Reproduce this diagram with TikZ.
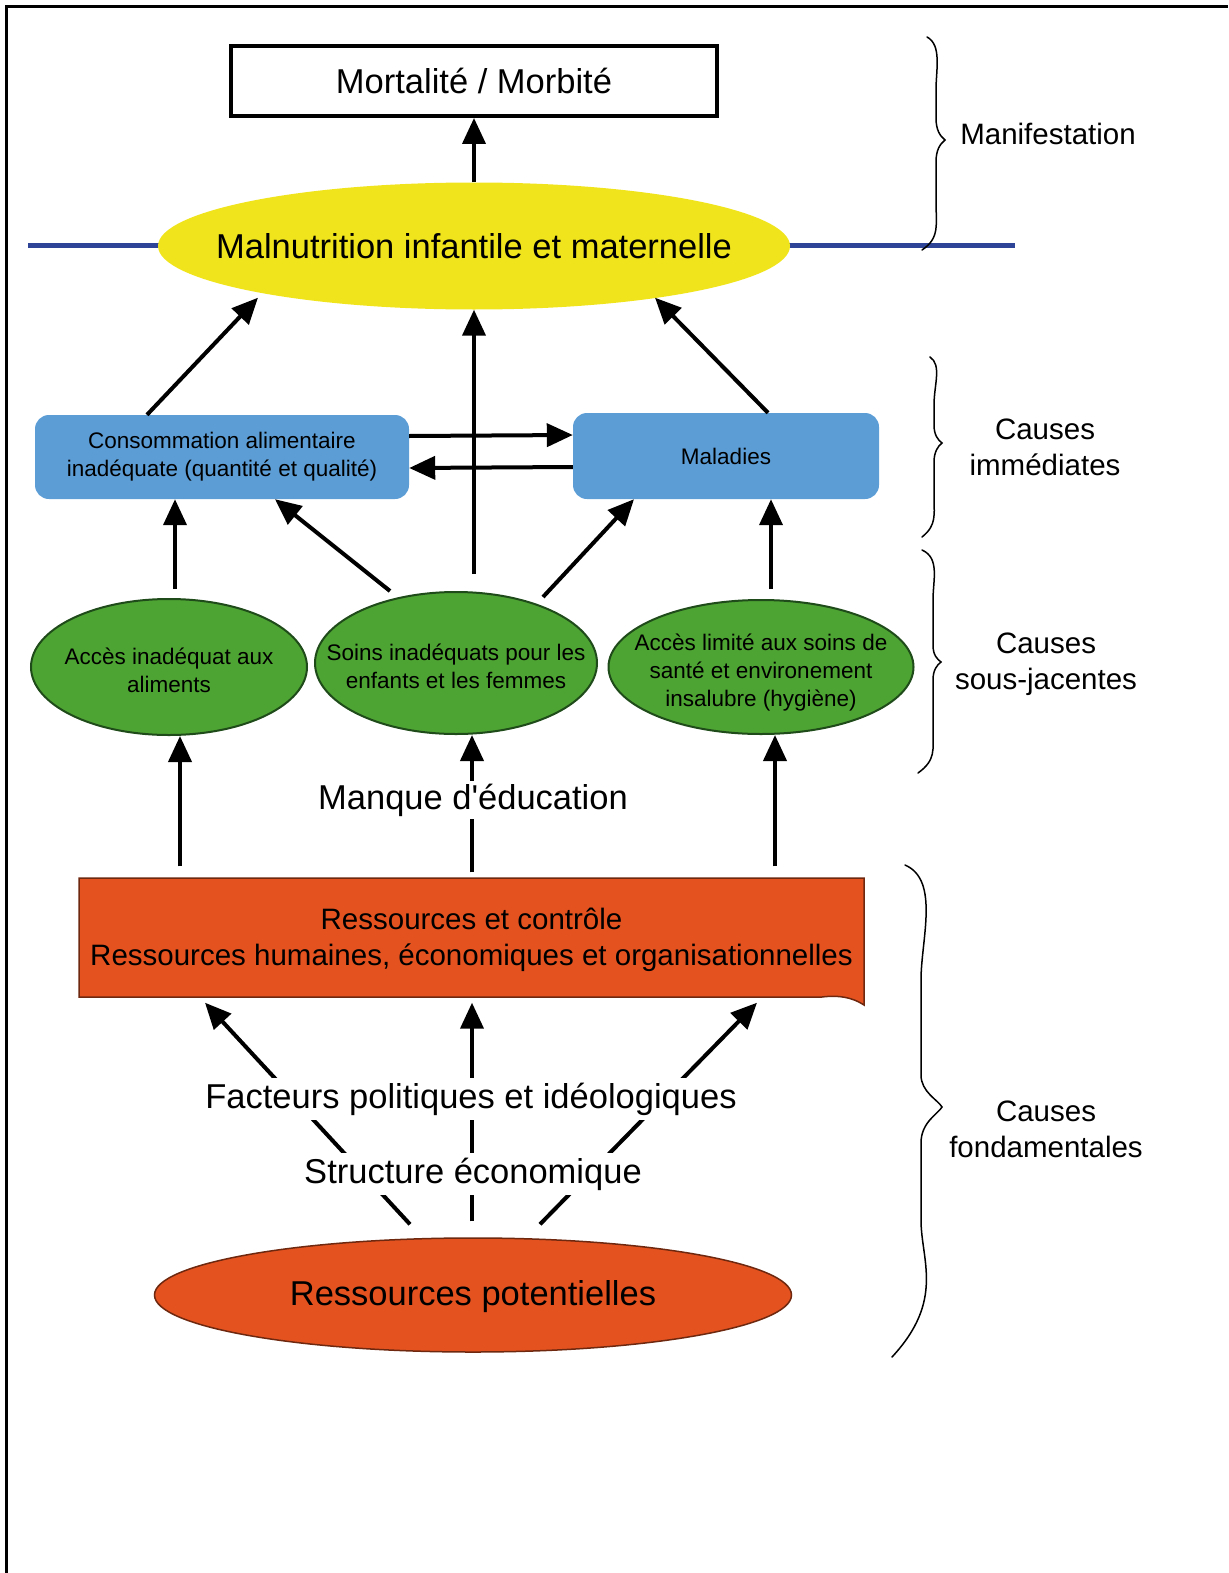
\documentclass[tikz,border=0pt]{standalone}
\usepackage{fontspec}
\setmainfont{Liberation Sans}[Ligatures=TeXOff]
\usetikzlibrary{arrows.meta,shapes.geometric}

\definecolor{lineblue}{RGB}{46,68,150}
\definecolor{malnyellow}{RGB}{240,228,28}
\definecolor{boxblue}{RGB}{92,157,214}
\definecolor{ellgreen}{RGB}{78,164,50}
\definecolor{ellgreenline}{RGB}{30,75,25}
\definecolor{resred}{RGB}{228,82,32}
\definecolor{resredline}{RGB}{110,40,15}

% text inside the green ellipses
\newcommand{\elltext}[1]{\makebox[0pt]{\raisebox{-11pt}[0pt][0pt]{\begin{tabular}{@{}c@{}}#1\end{tabular}}}}

\begin{document}
\begin{tikzpicture}[x=1pt,y=-1pt,
  arr/.style={line width=4pt,-{Triangle[length=26pt,width=23pt]}},
  bigtext/.style={font=\fontsize{34.5}{40}\selectfont},
  midtext/.style={font=\fontsize{29.5}{36}\selectfont,align=center},
  smalltext/.style={font=\fontsize{22.5}{28}\selectfont,align=center},
  bluebox/.style={rectangle,rounded corners=14pt,fill=boxblue,smalltext},
  greenell/.style={ellipse,fill=ellgreen,draw=ellgreenline,line width=2pt,inner sep=0pt,smalltext},
  bracestyle/.style={line width=1.5pt,line cap=round}]

\useasboundingbox (0,0) rectangle (1228,1573);
\draw[line width=3pt] (6,1573) -- (6,7) -- (1228,7);

% top part
\node[draw,line width=4pt,minimum width=486,minimum height=70,bigtext] (mort) at (474,81) {Mortalité / Morbité};
\draw[lineblue,line width=5pt] (28,245) -- (1015,245);
\node[ellipse,fill=malnyellow,minimum width=632,minimum height=127,inner sep=0pt,bigtext] (maln) at (474,246) {\makebox[0pt]{Malnutrition infantile et maternelle}};
\draw[arr] (maln.north) -- (mort.south);

% causes immediates
\node[bluebox,minimum width=374,minimum height=84] (conso) at (222,457) {Consommation alimentaire\\inadéquate (quantité et qualité)};
\node[bluebox,minimum width=306,minimum height=86] (mal) at (726,456) {Maladies};
\draw[arr] ([xshift=-75pt]conso.north) -- ([xshift=-216pt,yshift=12pt]maln.south);
\draw[arr] ([xshift=42pt]mal.north) -- ([xshift=181pt,yshift=12pt]maln.south);
\draw[arr] ([yshift=21pt]conso.east) -- ([yshift=21pt]mal.west);
\draw[arr] ([yshift=-11pt]mal.west) -- ([yshift=-11pt]conso.east);

% causes sous-jacentes
\node[greenell,minimum width=276,minimum height=136] (acces) at (169,667) {\elltext{Accès inadéquat aux\\aliments}};
\node[greenell,minimum width=282,minimum height=142] (soins) at (456,663) {\elltext{Soins inadéquats pour les\\enfants et les femmes}};
\node[greenell,minimum width=305,minimum height=134] (sante) at (761,667) {\elltext{Accès limité aux soins de\\santé et environement\\insalubre (hygiène)}};
\draw[arr] ([xshift=18pt,yshift=17pt]soins.north) -- (maln.south);
\draw[arr] ([xshift=6pt,yshift=9pt]acces.north) -- ([xshift=-47pt]conso.south);
\draw[arr] ([xshift=-66pt]soins.north) -- ([xshift=53pt]conso.south);
\draw[arr] ([xshift=87pt,yshift=-6pt]soins.north) -- ([xshift=-92pt]mal.south);
\draw[arr] ([xshift=10pt,yshift=10pt]sante.north) -- ([xshift=45pt]mal.south);

% causes fondamentales
\fill[resred,draw=resredline,line width=1.5pt] (79,878) -- (864,878) -- (864,1005) .. controls (852,997) and (838,995) .. (822,997) -- (79,997) -- cycle;
\node[minimum width=785,minimum height=119,midtext] (ress) at (471.5,940) {Ressources et contrôle\\Ressources humaines, économiques et organisationnelles};
\node[ellipse,fill=resred,draw=resredline,line width=1.5pt,minimum width=637,minimum height=114,inner sep=0pt,bigtext,text height=21pt,text depth=0pt] (pot) at (473,1295) {\makebox[0pt]{Ressources potentielles}};

\draw[arr] ([xshift=-291.5pt,yshift=14pt]ress.north) -- ([xshift=11pt]acces.south);
\draw[arr] ([xshift=0.5pt,yshift=8pt]ress.north) -- ([xshift=16pt]soins.south);
\draw[arr] ([xshift=303.5pt,yshift=14pt]ress.north) -- ([xshift=14pt]sante.south);
\draw[arr] ([xshift=-63pt,yshift=13pt]pot.north) -- ([xshift=-266.5pt,yshift=-3pt]ress.south);
\draw[arr] ([xshift=-1pt,yshift=16pt]pot.north) -- ([xshift=0.5pt,yshift=-3pt]ress.south);
\draw[arr] ([xshift=67pt,yshift=13pt]pot.north) -- ([xshift=285.5pt,yshift=-3pt]ress.south);

\node[fill=white,inner sep=3pt,bigtext] (educ) at (473,800) {Manque d'éducation};
\node[fill=white,inner sep=5pt,bigtext] (fact) at (471,1099) {Facteurs politiques et idéologiques};
\node[fill=white,inner sep=5pt,bigtext] (struct) at (473,1174) {Structure économique};

% accolades
\draw[bracestyle] (927,37) .. controls (942,45) and (936,70) .. (936,90) -- (936,118) .. controls (936,130) and (940,136) .. (945,140) .. controls (940,144) and (936,150) .. (936,162) -- (936,200) .. controls (936,225) and (940,238) .. (922,250);
\draw[bracestyle] (930,357) .. controls (942,365) and (934,385) .. (934,405) -- (934,425) .. controls (934,435) and (938,440) .. (942,443) .. controls (938,446) and (934,452) .. (934,462) -- (934,495) .. controls (934,515) and (937,525) .. (922,537);
\draw[bracestyle] (922,550) .. controls (940,558) and (933,580) .. (933,600) -- (933,645) .. controls (933,655) and (937,659) .. (941,662) .. controls (937,665) and (933,670) .. (933,680) -- (933,730) .. controls (933,750) and (936,760) .. (918,773);
\draw[bracestyle] (905,865) .. controls (940,880) and (921,940) .. (921,980) -- (921,1075) .. controls (921,1092) and (938,1100) .. (942,1107) .. controls (938,1114) and (921,1122) .. (921,1143) -- (921,1220) .. controls (921,1260) and (945,1300) .. (892,1357);

\node[midtext] (manif) at (1048,134) {Manifestation};
\node[midtext] (immed) at (1045,447) {Causes\\immédiates};
\node[midtext] (sousj) at (1046,664) {Causes\\sous-jacentes};
\node[midtext] (fond) at (1046,1129) {Causes\\fondamentales};

\end{tikzpicture}
\end{document}
